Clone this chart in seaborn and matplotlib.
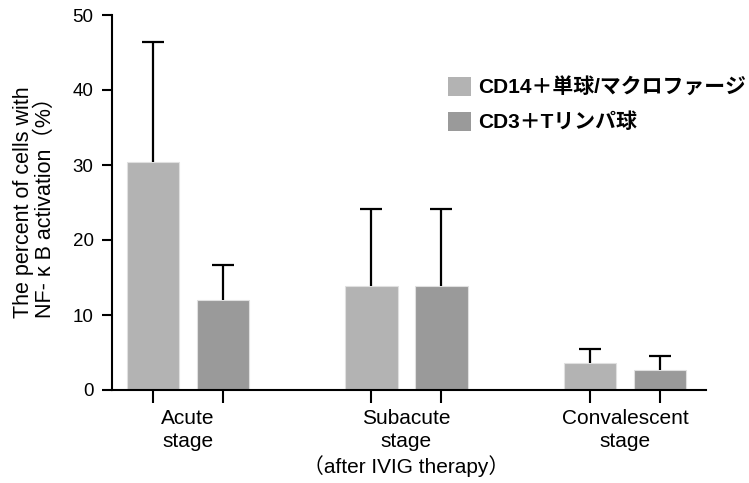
import numpy as np
import pandas as pd
import seaborn as sns
import matplotlib.pyplot as plt
from matplotlib.patches import Patch

stages = ['Acute\nstage', 'Subacute\nstage\n（after IVIG therapy）', 'Convalescent\nstage']
cells = ['CD14＋単球/マクロファージ', 'CD3＋Tリンパ球']
cd14_mean = [30.4, 13.9, 3.6]
cd14_sd = [16.0, 10.2, 1.9]
cd3_mean = [12.0, 13.9, 2.7]
cd3_sd = [4.7, 10.2, 1.9]
y_ticks = [0, 10, 20, 30, 40, 50]

colors = ['#b3b3b3', '#9a9a9a']

df = pd.DataFrame({
    'stage': stages * 2,
    'cell': [cells[0]] * 3 + [cells[1]] * 3,
    'mean': cd14_mean + cd3_mean,
})
sds = [cd14_sd, cd3_sd]

sns.set_style('ticks', {'text.color': 'black', 'axes.labelcolor': 'black',
                        'xtick.color': 'black', 'ytick.color': 'black',
                        'axes.edgecolor': 'black'})
plt.rcParams['font.family'] = ['Liberation Sans', 'Noto Sans CJK JP', 'DejaVu Sans']

fig = plt.figure(figsize=(7.49, 4.83), dpi=100)
ax = fig.add_axes([111.7 / 749, 1 - 390 / 483, (706 - 111.7) / 749, 375 / 483])

sns.barplot(data=df, x='stage', y='mean', hue='cell', order=stages, hue_order=cells,
            palette=colors, width=0.64, gap=0.25, errorbar=None, legend=False,
            edgecolor='#e0e0e0', linewidth=0.8, ax=ax)

# upward-only error bars: drop the lower caps
centers = []
for cont, sd in zip(ax.containers, sds):
    xs = [p.get_x() + p.get_width() / 2 for p in cont]
    ys = [p.get_height() for p in cont]
    centers += xs
    eb = ax.errorbar(xs, ys, yerr=[np.zeros(len(sd)), sd], fmt='none', ecolor='black',
                     elinewidth=1.6, capsize=8.2, capthick=1.6, zorder=3)
    eb[1][0].remove()

ax.set_xlim(-0.349, 2.371)
ax.set_ylim(0, 50)
ax.set_yticks(y_ticks)
ax.set_xticks(sorted(centers))
ax.set_xticklabels([])
ax.set_xticks(range(len(stages)), minor=True)
ax.set_xticklabels(stages, minor=True, fontsize=15, linespacing=1.25)
ax.tick_params(axis='x', which='major', length=9.5, width=1.5)
ax.tick_params(axis='x', which='minor', length=0, pad=14)
ax.tick_params(axis='y', length=7, width=1.5, pad=6, labelsize=13.5)

ax.set_xlabel('')
ax.set_ylabel('The percent of cells with\nNF- κ B activation（%）', fontsize=15.5,
              labelpad=12, linespacing=1.05)

sns.despine(ax=ax)
for s in ['left', 'bottom']:
    ax.spines[s].set_linewidth(1.5)

handles = [Patch(facecolor=c, edgecolor='none') for c in colors]
fig.legend(handles, cells, loc='upper left', bbox_to_anchor=(448 / 749, 1 - 77 / 483),
           frameon=False, borderpad=0, borderaxespad=0,
           handlelength=1.1, handleheight=1.0, handletextpad=0.35, labelspacing=0.7,
           prop={'weight': 'bold', 'size': 15})

fig.savefig('out.png', dpi=100)
